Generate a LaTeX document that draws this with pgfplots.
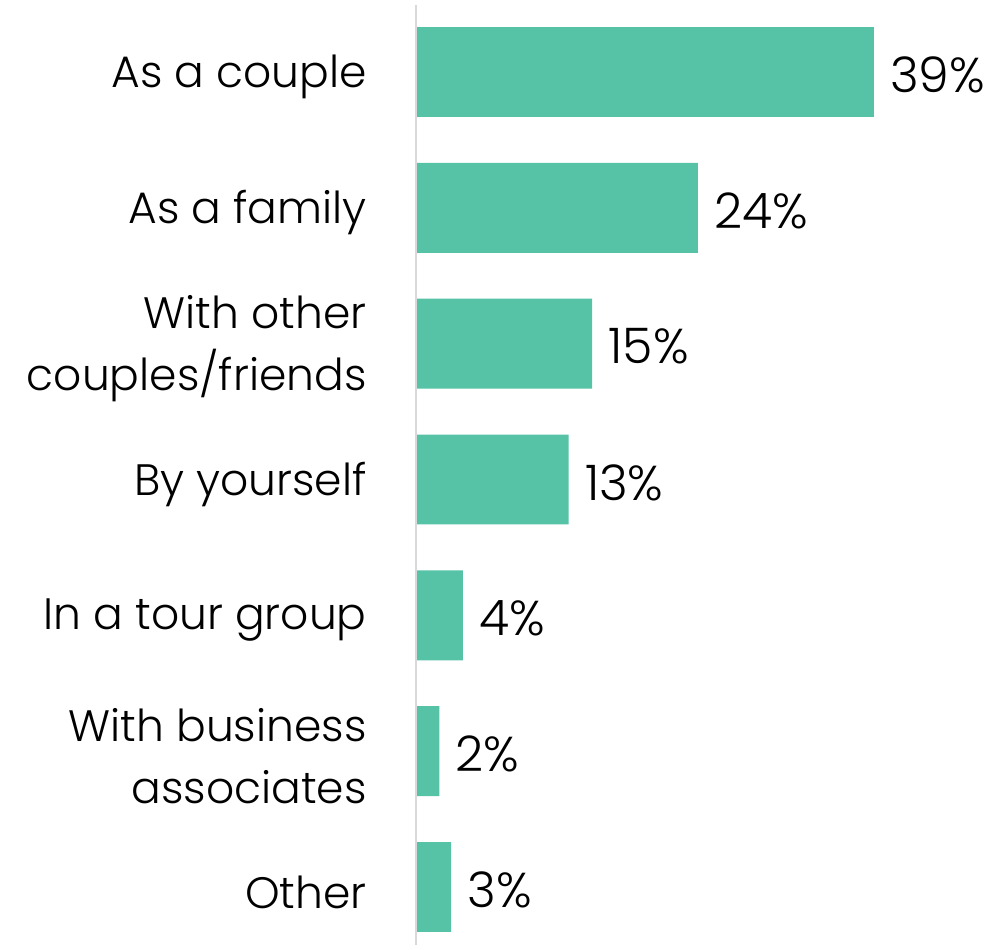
\documentclass[border=0pt]{standalone}
\usepackage{fontspec}
\setmainfont{Poppins}[UprightFont=* Light]
\usepackage{pgfplots}
\pgfplotsset{compat=1.18}
\usetikzlibrary{calc}
\definecolor{barc}{HTML}{56C2A6}
\definecolor{axc}{HTML}{D9D9D9}
\begin{document}
\begin{tikzpicture}
\begin{axis}[
  scale only axis,
  width=295.5pt, height=470pt,
  xmin=0, xmax=50.34,
  ymin=-0.493, ymax=6.427,
  y dir=reverse,
  xbar, bar width=0.662,
  axis line style={draw=none},
  axis x line=none,
  ytick={0,...,6},
  yticklabels={As a couple, As a family, {With other\\couples/friends}, By yourself, In a tour group, {With business\\associates}, Other},
  yticklabel style={align=right, font=\fontsize{22}{31}\selectfont, inner sep=0pt, xshift=-24.5pt, yshift=-2.5pt},
  major tick length=0pt,
  clip=false,
  /pgf/number format/assume math mode=true,
  nodes near coords={\pgfmathprintnumber{\pgfplotspointmeta}\%},
  nodes near coords style={font=\fontsize{24.5}{28}\selectfont, anchor=west, inner sep=0pt, xshift=8pt, yshift=-1.5pt},
  point meta=explicit,
]
\addplot[fill=barc, draw=none] coordinates {(39,0) [39] (24,1) [24] (15,2) [15] (13,3) [13] (4,4) [4] (2,5) [2] (3,6) [3]};
\draw[axc, line width=1pt] (axis cs:0,-0.493) -- (axis cs:0,6.427);
\coordinate (bl) at (rel axis cs:0,0);
\coordinate (tr) at (rel axis cs:1,1);
\end{axis}
\pgfresetboundingbox
\path[use as bounding box] ($(bl)+(-208pt,-2.5pt)$) rectangle ($(tr)+(0pt,2.5pt)$);
\end{tikzpicture}
\end{document}
